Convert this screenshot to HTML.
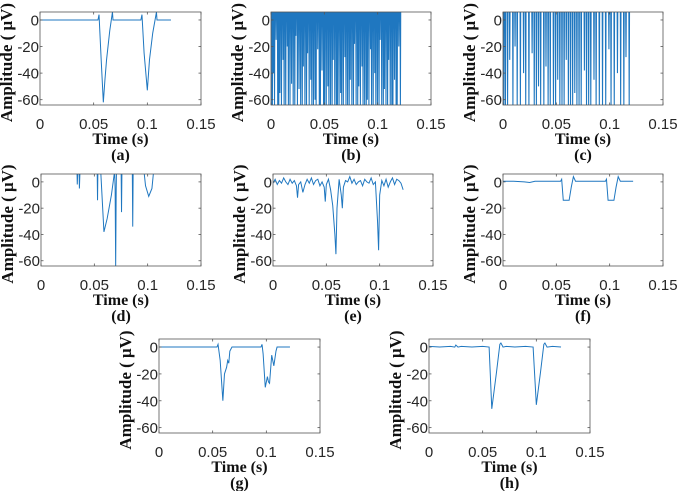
<!DOCTYPE html>
<html><head><meta charset="utf-8"><style>
html,body{margin:0;padding:0;background:#fff;}
svg{display:block;}
.tk{font-family:"Liberation Sans",sans-serif;font-size:15px;fill:#262626;}
.lb{font-family:"Liberation Serif",serif;font-size:16px;font-weight:bold;fill:#111;}
.yl{font-family:"Liberation Serif",serif;font-size:17px;font-weight:bold;fill:#111;}
</style></head><body>
<svg id="fig" width="685" height="491" viewBox="0 0 685 491"></svg>
<script>
// ---- data ----
const xTicks = [0, 0.05, 0.1, 0.15];
const xTickLabels = ["0", "0.05", "0.1", "0.15"];
const yTicks = [0, -20, -40, -60];
const yTickLabels = ["0", "-20", "-40", "-60"];
const panelLabels = ["(a)","(b)","(c)","(d)","(e)","(f)","(g)","(h)"];

const aT = [0,0.054,0.055,0.057,0.059,0.0605,0.062,0.065,0.0675,0.068,0.094,0.095,0.097,0.1,0.102,0.105,0.1085,0.109,0.122];
const aV = [0,0,4,-30,-62,-45,-30,-8,6,0,0,4,-25,-53,-30,-10,6,0,0];

const bSpikeT = [0.0005,0.001,0.002,0.003,0.0045,0.006,0.007,0.008,0.0095,0.011,0.012,0.0135,0.015,0.016,0.0175,0.019,0.0205,0.022,0.023,0.0245,0.026,0.0275,0.029,0.030,0.0315,0.033,0.034,0.0355,0.037,0.038,0.0395,0.041,0.042,0.0435,0.045,0.046,0.0475,0.049,0.050,0.0515,0.053,0.054,0.0555,0.057,0.058,0.0595,0.061,0.062,0.0635,0.065,0.066,0.0675,0.069,0.070,0.0715,0.073,0.074,0.0755,0.077,0.078,0.0795,0.081,0.082,0.0835,0.085,0.086,0.0875,0.089,0.090,0.0915,0.093,0.094,0.0955,0.097,0.098,0.0995,0.101,0.102,0.1035,0.105,0.106,0.1075,0.109,0.110,0.1115,0.113,0.114,0.1155,0.117,0.118,0.1195,0.121];
const bSpikeV = [-64,-64,-40,-64,-15,-64,-64,-55,-64,-30,-64,-64,-20,-64,-64,-48,-64,-64,-12,-64,-52,-64,-64,-35,-64,-64,-25,-64,-45,-64,-64,-60,-64,-22,-64,-64,-38,-64,-64,-64,-50,-64,-64,-64,-30,-64,-64,-64,-64,-55,-64,-64,-28,-64,-64,-64,-45,-64,-64,-18,-64,-64,-50,-64,-35,-64,-64,-64,-60,-64,-22,-64,-64,-40,-64,-64,-64,-15,-64,-64,-52,-64,-64,-30,-64,-64,-64,-45,-64,-64,-20,-64];

const cSpikeT = [0.0005,0.002,0.004,0.006,0.009,0.011,0.013,0.016,0.019,0.021,0.024,0.027,0.029,0.031,0.033,0.035,0.038,0.040,0.042,0.044,0.047,0.049,0.051,0.053,0.055,0.057,0.059,0.061,0.063,0.065,0.067,0.069,0.071,0.073,0.076,0.078,0.080,0.082,0.085,0.087,0.090,0.093,0.096,0.099,0.101,0.104,0.107,0.110,0.113,0.115,0.118];
const cSpikeV = [-64,-64,-64,-30,-64,-20,-64,-64,-40,-64,-64,-25,-64,-64,-50,-64,-64,-35,-64,-64,-64,-64,-45,-64,-64,-64,-30,-64,-64,-64,-55,-64,-64,-64,-38,-64,-64,-64,-45,-64,-64,-64,-64,-22,-64,-64,-40,-64,-64,-28,-64];

const dT = [0,0.0335,0.034,0.035,0.0355,0.036,0.037,0.0375,0.0525,0.053,0.0535,0.054,0.056,0.059,0.062,0.066,0.069,0.0695,0.070,0.0705,0.071,0.0715,0.075,0.0755,0.076,0.0765,0.0855,0.086,0.0865,0.095,0.098,0.101,0.104,0.107,0.122];
const dV = [20,20,-2,20,20,-5,20,20,20,-14,20,20,8,-38,-28,-10,8,-5,-64,-5,20,20,20,-23,20,20,20,-34,20,20,-3,-11,-5,20,20];

const eT = [0,0.002,0.004,0.006,0.008,0.010,0.012,0.014,0.016,0.018,0.020,0.022,0.023,0.024,0.026,0.028,0.030,0.032,0.034,0.036,0.038,0.040,0.042,0.044,0.046,0.048,0.049,0.050,0.052,0.054,0.056,0.058,0.059,0.060,0.062,0.064,0.065,0.066,0.068,0.070,0.072,0.074,0.076,0.078,0.080,0.082,0.084,0.086,0.088,0.090,0.092,0.094,0.096,0.098,0.099,0.100,0.102,0.104,0.106,0.108,0.110,0.112,0.114,0.116,0.118,0.120,0.122];
const eV = [-1,2,-2,1,-1,3,0,-2,2,-1,1,-3,-12,-2,0,-8,-2,2,-1,3,-2,1,2,-3,0,-4,-15,-2,2,-6,-18,-40,-55,-20,2,-10,-20,-4,1,0,4,-1,2,-2,0,1,-3,2,0,-1,3,-2,0,-30,-52,-10,1,-3,2,-4,0,3,-2,2,1,-1,-6];

const fT = [0,0.010,0.020,0.025,0.030,0.040,0.050,0.054,0.055,0.0565,0.062,0.064,0.066,0.068,0.070,0.080,0.090,0.096,0.097,0.0985,0.104,0.106,0.108,0.110,0.112,0.122];
const fV = [0.5,0.5,0,-0.5,0.5,0.5,0.5,0.5,2,-14,-14,-4,4,0.5,0.5,0.5,0.5,0.5,2,-14,-14,-4,4,0.5,0.5,0.5];

const gT = [0,0.054,0.055,0.057,0.0595,0.061,0.063,0.064,0.065,0.066,0.068,0.095,0.096,0.097,0.099,0.101,0.102,0.103,0.105,0.107,0.109,0.110,0.122];
const gV = [0,0,2,-10,-40,-20,-15,-10,-12,-3,0,0,2,-5,-30,-22,-26,-27,-6,-14,-3,0,0];

const hT = [0,0.010,0.020,0.024,0.025,0.027,0.030,0.040,0.050,0.056,0.0585,0.063,0.066,0.067,0.069,0.072,0.080,0.090,0.097,0.100,0.104,0.107,0.108,0.110,0.115,0.123];
const hV = [0.5,0,0.5,0,1.5,0,0.5,0,0.5,0,-46,-18,2,3,0,0.5,0,0.5,0,-43,-18,2,3,0,0.5,0];

const panels = [
  {left:40, top:12, w:161, h:93, lab:0, kind:"line", t:aT, v:aV},
  {left:271, top:12, w:160, h:93, lab:1, kind:"spike", t:bSpikeT, v:bSpikeV},
  {left:503, top:12, w:160, h:93, lab:2, kind:"spike", t:cSpikeT, v:cSpikeV},
  {left:41, top:174, w:160, h:92, lab:3, kind:"line", t:dT, v:dV},
  {left:273, top:174, w:160, h:92, lab:4, kind:"line", t:eT, v:eV},
  {left:503, top:174, w:160, h:92, lab:5, kind:"line", t:fT, v:fV},
  {left:159, top:339, w:161, h:94, lab:6, kind:"line", t:gT, v:gV},
  {left:429, top:339, w:161, h:94, lab:7, kind:"line", t:hT, v:hV}
];
const YMAX = 6, YMIN = -64, XMAX = 0.15;
const NS = "http://www.w3.org/2000/svg";
const svg = document.getElementById("fig");
function mk(tag, attrs, parent){const e=document.createElementNS(NS,tag);for(const k in attrs)e.setAttribute(k,attrs[k]);parent.appendChild(e);return e;}

panels.forEach((p,i)=>{
  const xs = t => p.left + t/XMAX*p.w;
  const ys = v => p.top + (YMAX - v)/(YMAX-YMIN)*p.h;
  const g = mk("g",{},svg);
  
  
  const cp = mk("clipPath",{id:"cp"+i},g);
  mk("rect",{x:p.left,y:p.top,width:p.w,height:p.h},cp);
  let d="";
  if(p.kind==="line"){
    p.t.forEach((t,k)=>{d+=(k?"L":"M")+xs(t).toFixed(2)+" "+ys(p.v[k]).toFixed(2);});
  } else {
    d="M"+xs(0)+" "+ys(YMAX+2);
    p.t.forEach((t,k)=>{d+="L"+xs(t).toFixed(2)+" "+ys(YMAX+2)+"L"+xs(t+0.0003).toFixed(2)+" "+ys(p.v[k]).toFixed(2)+"L"+xs(t+0.0006).toFixed(2)+" "+ys(YMAX+2);});
  }
  const path = mk("path",{d:d,fill:"none",stroke:"#1f77c0","stroke-width":p.kind==="spike"?1.1:1,"clip-path":"url(#cp"+i+")"},g);
  
  
  const box = mk("rect",{x:p.left,y:p.top,width:p.w,height:p.h,fill:"none",stroke:"#555","stroke-width":0.8},g);
  
  
  xTicks.forEach((t,k)=>{
    const x=xs(t);
    mk("line",{x1:x,x2:x,y1:p.top+p.h,y2:p.top+p.h-2.5,stroke:"#555","stroke-width":0.8},g);
    mk("line",{x1:x,x2:x,y1:p.top,y2:p.top+2.5,stroke:"#555","stroke-width":0.8},g);
    const tx = mk("text",{x:x,y:p.top+p.h+24,"text-anchor":"middle",class:"tk"},g);
    tx.textContent = xTickLabels[k];
    
    
  });
  yTicks.forEach((v,k)=>{
    const y=ys(v);
    mk("line",{x1:p.left,x2:p.left+2.5,y1:y,y2:y,stroke:"#555","stroke-width":0.8},g);
    mk("line",{x1:p.left+p.w,x2:p.left+p.w-2.5,y1:y,y2:y,stroke:"#555","stroke-width":0.8},g);
    const ty = mk("text",{x:p.left-1,y:y+5.5,"text-anchor":"end",class:"tk"},g);
    ty.textContent = yTickLabels[k];
    
    
  });
  const cx = p.left + p.w/2;
  const xl = mk("text",{x:cx,y:p.top+p.h+39,"text-anchor":"middle",class:"lb"},g);
  xl.textContent = "Time (s)";
  
  
  const pl = mk("text",{x:cx,y:p.top+p.h+55,"text-anchor":"middle",class:"lb"},g);
  pl.textContent = panelLabels[p.lab];
  
  
  const cy = p.top + p.h/2 + 4;
  const yl = mk("text",{x:0,y:0,"text-anchor":"middle",class:"yl",transform:"translate("+(p.left-28)+","+cy+") rotate(-90)"},g);
  yl.textContent = "Amplitude ( \u03bcV)";
  
  
});
</script>
</body></html>
